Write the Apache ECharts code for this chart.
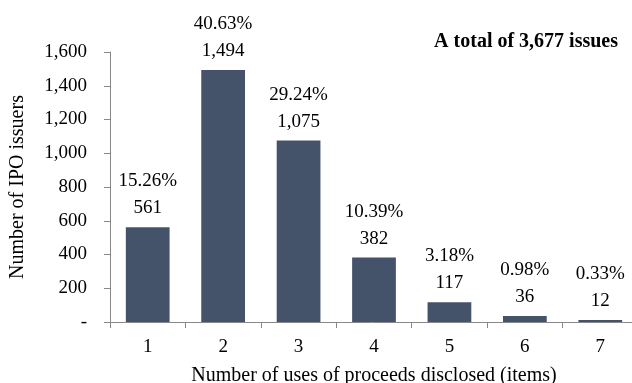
<!DOCTYPE html>
<html>
<head>
<meta charset="utf-8">
<script src="https://cdn.jsdelivr.net/npm/echarts@6/dist/echarts.min.js"></script>
<style>
  html, body { margin: 0; padding: 0; background: #fff; }
  #chart { width: 632px; height: 383px; }
</style>
</head>
<body>
<div id="chart"></div>
<script>
// categories: number of uses of proceeds disclosed
const categories = ["1", "2", "3", "4", "5", "6", "7"];
// number of IPO issuers
const counts = [561, 1494, 1075, 382, 117, 36, 12];
// share of total
const shares = ["15.26%", "40.63%", "29.24%", "10.39%", "3.18%", "0.98%", "0.33%"];
const yTicks = [0, 200, 400, 600, 800, 1000, 1200, 1400, 1600];

const font = "'Liberation Serif', 'Times New Roman', serif";
const chart = echarts.init(document.getElementById("chart"));

const option = {
  animation: false,
  textStyle: { fontFamily: font, color: "#000" },
  title: {
    text: "A total of 3,677 issues",
    right: 9,
    top: 27,
    textStyle: { fontFamily: font, fontSize: 20, fontWeight: "bold", color: "#000" }
  },
  grid: { left: 110, right: -6, top: 52, bottom: 61, containLabel: false, outerBoundsMode: "none" },
  xAxis: {
    type: "category",
    data: categories,
    name: "Number of uses of proceeds disclosed (items)",
    nameLocation: "middle",
    nameGap: 44,
    nameTextStyle: { fontFamily: font, fontSize: 20, color: "#000" },
    axisLine: { lineStyle: { color: "#888", width: 1 } },
    axisTick: { show: true, length: 6, lineStyle: { color: "#888" } },
    axisLabel: { fontFamily: font, fontSize: 19, color: "#000", margin: 16 }
  },
  yAxis: {
    type: "value",
    min: 0,
    max: yTicks[yTicks.length - 1],
    interval: 200,
    name: "Number of IPO issuers",
    nameLocation: "middle",
    nameGap: 82,
    nameTextStyle: { fontFamily: font, fontSize: 20, color: "#000" },
    splitLine: { show: false },
    axisLine: { show: true, lineStyle: { color: "#888", width: 1 } },
    axisTick: { show: true, length: 6, lineStyle: { color: "#888" } },
    axisLabel: {
      fontFamily: font,
      fontSize: 19,
      color: "#000",
      margin: 23,
      formatter: v => v === 0 ? "-" : v.toLocaleString("en-US")
    }
  },
  series: [{
    type: "bar",
    data: counts,
    barWidth: "58%",
    itemStyle: { color: "#44536a" },
    label: {
      show: true,
      position: "top",
      distance: 7,
      formatter: p => "{p|" + shares[p.dataIndex] + "}\n{v|" + p.value.toLocaleString("en-US") + "}",
      rich: {
        p: { fontFamily: font, fontSize: 19, color: "#000", lineHeight: 30 },
        v: { fontFamily: font, fontSize: 19, color: "#000", lineHeight: 24 }
      }
    }
  }]
};

chart.setOption(option);
</script>
</body>
</html>
